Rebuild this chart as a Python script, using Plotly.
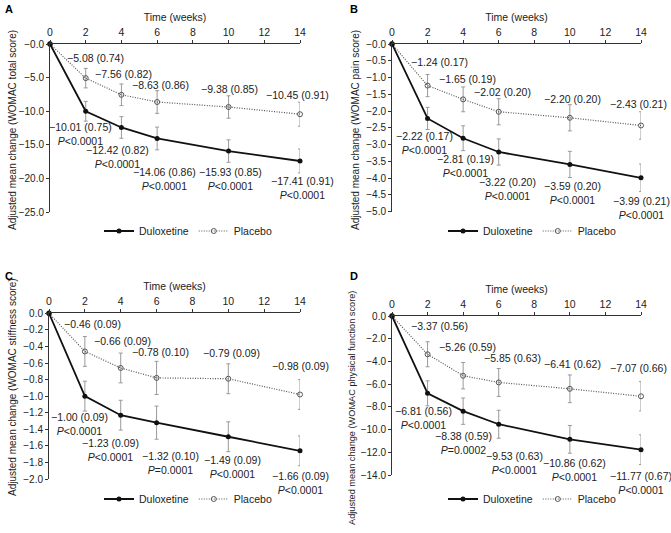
import plotly.graph_objects as go

weeks = [0, 2, 4, 6, 10, 14]
label_weeks = [2, 4, 6, 10, 14]

# Panel A: WOMAC total
a_dul = [0, -10.01, -12.42, -14.06, -15.93, -17.41]
a_dul_se = [0.75, 0.82, 0.86, 0.85, 0.91]
a_dul_ci = [0, 1.47, 1.61, 1.69, 1.67, 1.78]
a_pla = [0, -5.08, -7.56, -8.63, -9.38, -10.45]
a_pla_se = [0.74, 0.82, 0.86, 0.85, 0.91]
a_pla_ci = [0, 1.45, 1.61, 1.69, 1.67, 1.78]
a_p = ["<0.0001", "<0.0001", "<0.0001", "<0.0001", "<0.0001"]
a_yt = [0, -5, -10, -15, -20, -25]
a_ytxt = ["−0.0", "−5.0", "−10.0", "−15.0", "−20.0", "−25.0"]

# Panel B: WOMAC pain
b_dul = [0, -2.22, -2.81, -3.22, -3.59, -3.99]
b_dul_se = [0.17, 0.19, 0.20, 0.20, 0.21]
b_dul_ci = [0, 0.33, 0.37, 0.39, 0.39, 0.41]
b_pla = [0, -1.24, -1.65, -2.02, -2.20, -2.43]
b_pla_se = [0.17, 0.19, 0.20, 0.20, 0.21]
b_pla_ci = [0, 0.33, 0.37, 0.39, 0.39, 0.41]
b_p = ["<0.0001", "<0.0001", "<0.0001", "<0.0001", "<0.0001"]
b_yt = [0, -0.5, -1.0, -1.5, -2.0, -2.5, -3.0, -3.5, -4.0, -4.5, -5.0]
b_ytxt = ["−0.0", "−0.5", "−1.0", "−1.5", "−2.0", "−2.5", "−3.0", "−3.5", "−4.0", "−4.5", "−5.0"]

# Panel C: WOMAC stiffness
c_dul = [0, -1.00, -1.23, -1.32, -1.49, -1.66]
c_dul_se = [0.09, 0.09, 0.10, 0.09, 0.09]
c_dul_ci = [0, 0.18, 0.18, 0.20, 0.18, 0.18]
c_pla = [0, -0.46, -0.66, -0.78, -0.79, -0.98]
c_pla_se = [0.09, 0.09, 0.10, 0.09, 0.09]
c_pla_ci = [0, 0.18, 0.18, 0.20, 0.18, 0.18]
c_p = ["<0.0001", "<0.0001", "=0.0001", "<0.0001", "<0.0001"]
c_yt = [0, -0.2, -0.4, -0.6, -0.8, -1.0, -1.2, -1.4, -1.6, -1.8, -2.0]
c_ytxt = ["0.0", "−0.2", "−0.4", "−0.6", "−0.8", "−1.0", "−1.2", "−1.4", "−1.6", "−1.8", "−2.0"]

# Panel D: WOMAC physical function
d_dul = [0, -6.81, -8.38, -9.53, -10.86, -11.77]
d_dul_se = [0.56, 0.59, 0.63, 0.62, 0.67]
d_dul_ci = [0, 1.10, 1.16, 1.23, 1.22, 1.31]
d_pla = [0, -3.37, -5.26, -5.85, -6.41, -7.07]
d_pla_se = [0.56, 0.59, 0.63, 0.62, 0.66]
d_pla_ci = [0, 1.10, 1.16, 1.23, 1.22, 1.29]
d_p = ["<0.0001", "=0.0002", "<0.0001", "<0.0001", "<0.0001"]
d_yt = [0, -2, -4, -6, -8, -10, -12, -14]
d_ytxt = ["0.0", "−2.0", "−4.0", "−6.0", "−8.0", "−10.0", "−12.0", "−14.0"]

x_ticks = [0, 2, 4, 6, 8, 10, 12, 14]

# layout (pixel offsets of value labels, dx, dy down-positive)
a_pla_off = [(10, -20), (2, -21), (3, -17), (1, -18), (-3, -19)]
a_dul_off = [(-5, 23), (-4, 30), (7, 41), (2, 28), (2, 27)]
b_pla_off = [(12, -24), (4, -20), (4, -20), (3, -19), (-3, -22)]
b_dul_off = [(-3, 25), (2, 28), (9, 37), (3, 29), (0, 30)]
c_pla_off = [(8, -27), (2, -27), (4, -26), (3, -26), (0, -28)]
c_dul_off = [(-5, 28), (-10, 35), (14, 40), (4, 30), (0, 32)]
d_pla_off = [(12, -28), (4, -29), (14, -24), (3, -25), (-3, -28)]
d_dul_off = [(-4, 25), (0, 32), (16, 39), (5, 31), (0, 33)]

W, H = 671, 533
def px(v): return v / W
def py(v): return 1 - v / H

panels = [
    dict(key="", leg="legend", dul=a_dul, dci=a_dul_ci, dse=a_dul_se, pla=a_pla, pci=a_pla_ci, pse=a_pla_se,
         p=a_p, yt=a_yt, ytxt=a_ytxt, yr=[-25, 0], xd=[px(50), px(300)], yd=[py(212), py(44)],
         po=a_pla_off, do=a_dul_off, letter="A", lx=3, ly=9, title="Adjusted mean change (WOMAC total score)",
         tx=12, ty=130, tfs=10, legx=188, legy=231),
    dict(key="2", leg="legend2", dul=b_dul, dci=b_dul_ci, dse=b_dul_se, pla=b_pla, pci=b_pla_ci, pse=b_pla_se,
         p=b_p, yt=b_yt, ytxt=b_ytxt, yr=[-5, 0], xd=[px(392), px(641)], yd=[py(211.7), py(44)],
         po=b_pla_off, do=b_dul_off, letter="B", lx=348, ly=9, title="Adjusted mean change (WOMAC pain score)",
         tx=355, ty=130, tfs=10, legx=532, legy=231),
    dict(key="3", leg="legend3", dul=c_dul, dci=c_dul_ci, dse=c_dul_se, pla=c_pla, pci=c_pla_ci, pse=c_pla_se,
         p=c_p, yt=c_yt, ytxt=c_ytxt, yr=[-2, 0], xd=[px(49), px(300)], yd=[py(479), py(313.3)],
         po=c_pla_off, do=c_dul_off, letter="C", lx=3, ly=276, title="Adjusted mean change (WOMAC stiffness score)",
         tx=12, ty=387, tfs=10, legx=188, legy=499),
    dict(key="4", leg="legend4", dul=d_dul, dci=d_dul_ci, dse=d_dul_se, pla=d_pla, pci=d_pla_ci, pse=d_pla_se,
         p=d_p, yt=d_yt, ytxt=d_ytxt, yr=[-14, 0], xd=[px(392), px(641)], yd=[py(475), py(316)],
         po=d_pla_off, do=d_dul_off, letter="D", lx=348, ly=276, title="Adjusted mean change (WOMAC physical function score)",
         tx=352, ty=408, tfs=9.2, legx=532, legy=499),
]

FONT = "Liberation Sans, Arial, sans-serif"
TXT = "#222222"
LBL = 10.5
fig = go.Figure()
annotations = []
layout = dict(
    width=W, height=H, margin=dict(l=0, r=0, t=0, b=0, autoexpand=False),
    paper_bgcolor="white", plot_bgcolor="white",
    font=dict(family=FONT, size=10, color=TXT),
)

for pn in panels:
    k = pn["key"]
    xa, ya = "x" + k, "y" + k
    fig.add_trace(go.Scatter(
        x=weeks, y=pn["pla"], mode="lines+markers", name="Placebo",
        xaxis=xa, yaxis=ya, legend=pn["leg"], cliponaxis=False,
        line=dict(color="#555555", width=1.2, dash="1px,1.5px"),
        marker=dict(symbol="circle-open", size=5, color="#555555", line=dict(width=1)),
        error_y=dict(type="data", array=pn["pci"], color="#9a9a9a", thickness=1, width=2),
    ))
    fig.add_trace(go.Scatter(
        x=weeks, y=pn["dul"], mode="lines+markers", name="Duloxetine",
        xaxis=xa, yaxis=ya, legend=pn["leg"], cliponaxis=False,
        line=dict(color="#111111", width=1.8),
        marker=dict(symbol="circle", size=5, color="#111111"),
        error_y=dict(type="data", array=pn["dci"], color="#9a9a9a", thickness=1, width=2),
    ))
    for i, w in enumerate(label_weeks):
        v = pn["pla"][i + 1]
        dx, dy = pn["po"][i]
        annotations.append(dict(
            x=w, y=v, xref=xa, yref=ya, showarrow=False,
            text=f"−{abs(v):.2f} ({pn['pse'][i]:.2f})", xshift=dx, yshift=-dy,
            font=dict(size=LBL, color=TXT)))
        v = pn["dul"][i + 1]
        dx, dy = pn["do"][i]
        ptxt = pn["p"][i].replace("<", "&lt;")
        annotations.append(dict(
            x=w, y=v, xref=xa, yref=ya, showarrow=False,
            text=f"−{abs(v):.2f} ({pn['dse'][i]:.2f})<br><i>P</i>{ptxt}", xshift=dx, yshift=-dy,
            font=dict(size=LBL, color=TXT)))
    annotations.append(dict(x=px(pn["lx"]), y=py(pn["ly"]), xref="paper", yref="paper", showarrow=False,
                            xanchor="left", yanchor="middle", text="<b>" + pn["letter"] + "</b>",
                            font=dict(size=11, color="#000000")))
    annotations.append(dict(x=px(pn["tx"]), y=py(pn["ty"]), xref="paper", yref="paper", showarrow=False,
                            xanchor="center", yanchor="middle", textangle=-90, text=pn["title"],
                            font=dict(size=pn["tfs"], color=TXT)))
    axk = "xaxis" + k
    ayk = "yaxis" + k
    layout[axk] = dict(
        domain=pn["xd"], anchor=ya, side="top", range=[0, 14],
        tickvals=x_ticks, ticktext=[str(t) for t in x_ticks],
        showline=True, linecolor="#333333", linewidth=1, ticks="outside", ticklen=3,
        tickcolor="#333333", showgrid=False, zeroline=False,
        title=dict(text="Time (weeks)", font=dict(size=10.5, color=TXT), standoff=2),
        tickfont=dict(size=10.5, color=TXT),
    )
    layout[ayk] = dict(
        domain=pn["yd"], anchor=xa, range=pn["yr"],
        tickvals=pn["yt"], ticktext=pn["ytxt"],
        showline=True, linecolor="#333333", linewidth=1, ticks="outside", ticklen=3,
        tickcolor="#333333", showgrid=False, zeroline=False,
        tickfont=dict(size=10, color=TXT),
    )
    layout[pn["leg"]] = dict(
        x=px(pn["legx"]), y=py(pn["legy"]), xanchor="center", yanchor="middle",
        orientation="h", traceorder="reversed", font=dict(size=10.5, color=TXT),
        bgcolor="rgba(0,0,0,0)", itemwidth=30,
    )

layout["annotations"] = annotations
fig.update_layout(**layout)
fig.write_html("out.html", config={"displayModeBar": False})

with open("out.html", "r", encoding="utf-8") as f:
    html = f.read()
html = html.replace("<body>", "<body style=\"margin:0;overflow:hidden\">", 1)
with open("out.html", "w", encoding="utf-8") as f:
    f.write(html)
